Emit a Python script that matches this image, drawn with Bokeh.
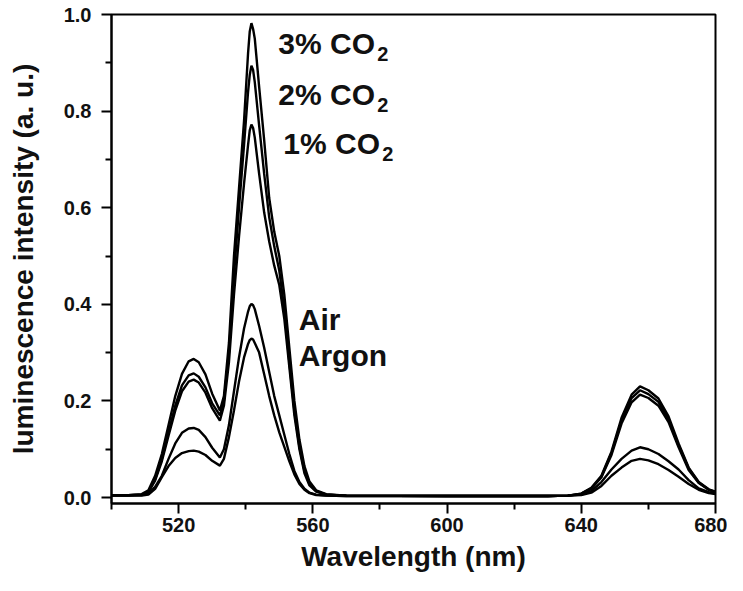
from bokeh.plotting import figure
from bokeh.models import FixedTicker, Range1d
from bokeh.core.properties import value
from bokeh.embed import file_html
from bokeh.resources import INLINE

# Wavelength grid (nm)
wavelength = [500, 505, 509, 511, 513, 515, 517, 519, 521, 523, 524.5, 526, 528, 530,
              532.3, 533.5, 535, 536.5, 538, 539.5, 540.7, 541.2, 541.7, 542.2, 542.7,
              544, 545.5, 547, 548.5, 550, 551.5, 553, 554.5, 556, 557.5, 559, 561, 564,
              570, 600, 630, 636, 640, 643, 646, 649, 652, 655, 657.5, 660, 663, 666,
              669, 672, 675, 678, 680]

co2_3 = [0.005, 0.005, 0.007, 0.015, 0.045, 0.09, 0.15, 0.21, 0.256, 0.282, 0.287, 0.28, 0.255, 0.215,
         0.18, 0.21, 0.32, 0.5, 0.64, 0.78, 0.92, 0.965, 0.982, 0.97, 0.95,
         0.85, 0.74, 0.62, 0.55, 0.5, 0.42, 0.31, 0.2, 0.12, 0.065, 0.033, 0.015, 0.007,
         0.004, 0.003, 0.003, 0.004, 0.008, 0.02, 0.045, 0.095, 0.165, 0.213, 0.23, 0.222, 0.205, 0.168,
         0.112, 0.062, 0.032, 0.017, 0.012]

co2_2 = [0.005, 0.005, 0.006, 0.012, 0.038, 0.08, 0.135, 0.19, 0.232, 0.253, 0.257, 0.25, 0.228, 0.195,
         0.17, 0.2, 0.3, 0.46, 0.6, 0.73, 0.84, 0.875, 0.894, 0.885, 0.86,
         0.77, 0.67, 0.58, 0.52, 0.47, 0.39, 0.28, 0.18, 0.105, 0.055, 0.028, 0.013, 0.006,
         0.004, 0.003, 0.003, 0.004, 0.008, 0.019, 0.043, 0.092, 0.159, 0.206, 0.222, 0.214, 0.198, 0.162,
         0.108, 0.06, 0.031, 0.016, 0.011]

co2_1 = [0.005, 0.005, 0.006, 0.011, 0.035, 0.075, 0.128, 0.18, 0.22, 0.24, 0.244, 0.238, 0.217, 0.185,
         0.159, 0.19, 0.28, 0.42, 0.54, 0.65, 0.73, 0.76, 0.772, 0.765, 0.745,
         0.67, 0.59, 0.53, 0.48, 0.44, 0.37, 0.27, 0.17, 0.1, 0.05, 0.025, 0.012, 0.006,
         0.004, 0.003, 0.003, 0.004, 0.007, 0.018, 0.042, 0.088, 0.153, 0.197, 0.213, 0.206, 0.19, 0.156,
         0.104, 0.057, 0.03, 0.016, 0.011]

air = [0.004, 0.004, 0.005, 0.008, 0.022, 0.045, 0.08, 0.112, 0.134, 0.143, 0.144, 0.14, 0.125, 0.103,
       0.083, 0.1, 0.15, 0.22, 0.29, 0.35, 0.385, 0.396, 0.401, 0.398, 0.39,
       0.355, 0.31, 0.26, 0.21, 0.17, 0.13, 0.09, 0.055, 0.032, 0.018, 0.01, 0.006, 0.004,
       0.003, 0.003, 0.003, 0.004, 0.006, 0.013, 0.032, 0.058, 0.08, 0.097, 0.104, 0.1, 0.09, 0.075,
       0.058, 0.036, 0.019, 0.011, 0.008]

argon = [0.004, 0.004, 0.004, 0.006, 0.018, 0.042, 0.065, 0.082, 0.092, 0.096, 0.097, 0.095, 0.088, 0.076,
         0.066, 0.08, 0.125, 0.18, 0.24, 0.29, 0.318, 0.326, 0.329, 0.327, 0.32,
         0.3, 0.255, 0.21, 0.17, 0.135, 0.105, 0.075, 0.048, 0.028, 0.016, 0.009, 0.005, 0.004,
         0.003, 0.003, 0.003, 0.004, 0.005, 0.01, 0.024, 0.045, 0.062, 0.076, 0.08, 0.077, 0.069, 0.057,
         0.043, 0.028, 0.016, 0.009, 0.007]

series = [co2_3, co2_2, co2_1, air, argon]

# Annotation labels
label_main = ["3% CO", "2% CO", "1% CO", "Air", "Argon"]
label_x = [549.7, 549.7, 551.2, 555.8, 555.8]
label_y = [0.94, 0.834, 0.733, 0.368, 0.293]
sub_text = ["2", "2", "2"]
sub_x = [579.2, 579.2, 580.7]
sub_y = [0.918, 0.812, 0.711]

x_major = [520, 560, 600, 640, 680]
x_minor = [500, 540, 580, 620, 660]
y_major = [0.0, 0.2, 0.4, 0.6, 0.8, 1.0]
y_minor = [0.1, 0.3, 0.5, 0.7, 0.9]
y_tick_labels = ["0.0", "0.2", "0.4", "0.6", "0.8", "1.0"]

FONT = "Liberation Sans"

p = figure(width=727, height=575, output_backend="svg", toolbar_location=None,
           x_range=Range1d(500, 680), y_range=Range1d(-0.0124, 1.0),
           min_border_left=111, min_border_right=12, min_border_top=14, min_border_bottom=72)

p.grid.visible = False
p.background_fill_color = "white"
p.border_fill_color = "white"
p.outline_line_color = "black"
p.outline_line_width = 2

for ys in series:
    p.line(wavelength, ys, line_color="black", line_width=2.4)

p.text(x=label_x, y=label_y, text=label_main, text_font=value(FONT), text_font_style="bold",
       text_font_size="30px", text_color="#111111", text_baseline="alphabetic", text_align="left")
p.text(x=sub_x, y=sub_y, text=sub_text, text_font=value(FONT), text_font_style="bold",
       text_font_size="20px", text_color="#111111", text_baseline="alphabetic", text_align="left")

xa = p.xaxis[0]
xa.ticker = FixedTicker(ticks=x_major, minor_ticks=x_minor)
xa.axis_label = "Wavelength (nm)"
ya = p.yaxis[0]
ya.ticker = FixedTicker(ticks=y_major, minor_ticks=y_minor)
ya.major_label_overrides = {v: s for v, s in zip(y_major, y_tick_labels)}
ya.axis_label = "luminescence intensity (a. u.)"

for ax in (xa, ya):
    ax.axis_line_color = "black"
    ax.axis_line_width = 2
    ax.major_tick_line_color = "black"
    ax.major_tick_line_width = 2
    ax.minor_tick_line_color = "black"
    ax.minor_tick_line_width = 2
    ax.major_tick_in = 0
    ax.major_tick_out = 10
    ax.minor_tick_in = 0
    ax.minor_tick_out = 6
    ax.major_label_text_font = FONT
    ax.major_label_text_font_style = "bold"
    ax.major_label_text_font_size = "20px"
    ax.major_label_text_color = "#111111"
    ax.axis_label_text_font = FONT
    ax.axis_label_text_font_style = "bold"
    ax.axis_label_text_font_size = "28px"
    ax.axis_label_text_color = "#111111"

xa.major_label_standoff = 4
xa.axis_label_standoff = 6
ya.major_label_standoff = 10
ya.axis_label_standoff = 22

open("out.html", "w").write(file_html(p, INLINE))
